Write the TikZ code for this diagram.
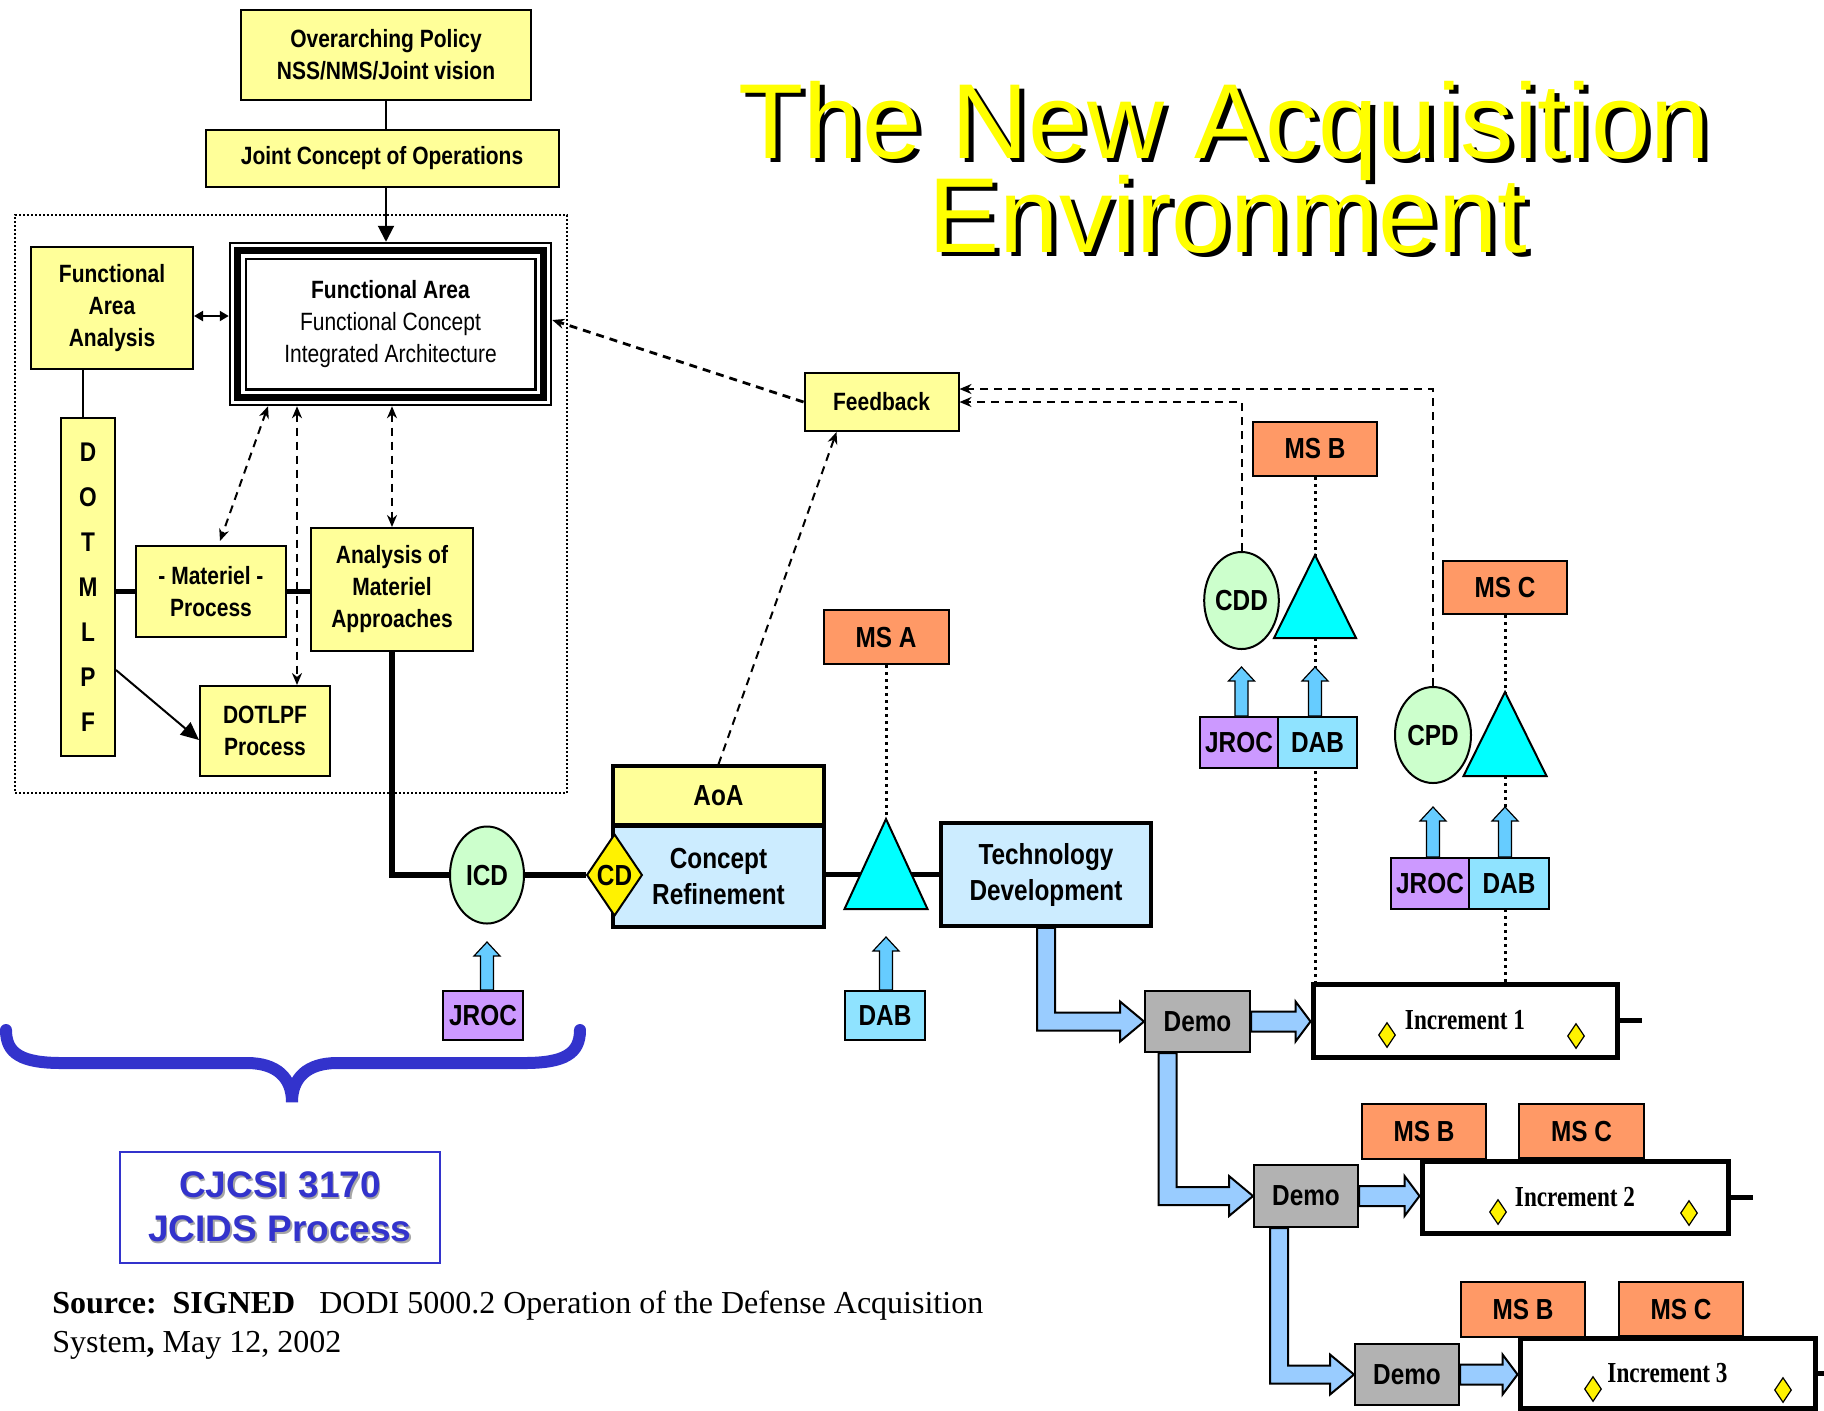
\documentclass[tikz,border=0pt]{standalone}
\usepackage{fontspec}
\setmainfont{Liberation Sans}
\newfontfamily\nfont[FakeStretch=0.84]{Liberation Sans}
\newfontfamily\incfont[FakeStretch=0.8]{Liberation Serif}
\newfontfamily\srcfont{Liberation Serif}
\usetikzlibrary{shapes.geometric,arrows.meta,calc}
\pgfdeclarelayer{bg}
\pgfsetlayers{bg,main}
\definecolor{yel}{HTML}{FFFF99}
\definecolor{lblue}{HTML}{CCECFF}
\definecolor{lgreen}{HTML}{CCFFCC}
\definecolor{mso}{HTML}{FF9966}
\definecolor{jrocc}{HTML}{CC99FF}
\definecolor{dabc}{HTML}{8FE3FF}
\definecolor{arrs}{HTML}{66CCFF}
\definecolor{arrb}{HTML}{99CCFF}
\definecolor{democ}{HTML}{B2B2B2}
\definecolor{bracec}{HTML}{3333CC}
\definecolor{tricyan}{HTML}{00FFFF}
\definecolor{titley}{HTML}{FFFF00}
\newcommand\shadowtext[4]{\makebox[0pt][l]{\hspace{#1}\raisebox{-#2}{\color{#3}#4}}#4}
\newcommand\UpArr[2]{\draw[smallarr] #1 ++(-3.25pt,0) -- ++(0,#2-7pt) -- ++(-3.25pt,0) -- ++(6.5pt,7pt) -- ++(6.5pt,-7pt) -- ++(-3.25pt,0) -- ++(0,7pt-#2) -- cycle;}
\newcommand\LArr[2]{\draw[bigarr] let \p1=#1, \p2=#2 in (\x1-4.5pt,\y1) -- (\x1-4.5pt,\y2-4.5pt) -- (\x2-12pt,\y2-4.5pt) -- (\x2-12pt,\y2-10pt) -- (\x2,\y2) -- (\x2-12pt,\y2+10pt) -- (\x2-12pt,\y2+4.5pt) -- (\x1+4.5pt,\y2+4.5pt) -- (\x1+4.5pt,\y1) -- cycle;}
\newcommand\RArr[2]{\draw[bigarr] let \p1=#1, \p2=#2 in (\x1,\y1-5pt) -- (\x2-7.5pt,\y1-5pt) -- (\x2-7.5pt,\y1-10pt) -- (\x2,\y1) -- (\x2-7.5pt,\y1+10pt) -- (\x2-7.5pt,\y1+5pt) -- (\x1,\y1+5pt) -- cycle;}
\begin{document}
\begin{tikzpicture}[x=0.5pt,y=-0.5pt,
  sz/.code 2 args={\pgfmathsetlengthmacro\tmpw{#1*0.5pt}\pgfmathsetlengthmacro\tmph{#2*0.5pt}\edef\tmp{\noexpand\tikzset{minimum width=\tmpw,minimum height=\tmph}}\tmp},
  box/.style={draw, line width=1pt, inner sep=0pt, align=center, font=\nfont\bfseries\fontsize{12.5}{16}\selectfont},
  big/.style={font=\nfont\bfseries\fontsize{14.5}{18}\selectfont},
  ybox/.style={box, fill=yel},
  msbox/.style={box, big, fill=mso},
  ell/.style={ellipse, draw, line width=1pt, fill=lgreen, inner sep=0pt, big},
  incbox/.style={box, fill=white, line width=2.5pt, font=\incfont\bfseries\fontsize{14.5}{17}\selectfont},
  smalld/.style={diamond, draw, line width=0.6pt, fill=yellow, inner sep=0pt, minimum width=8.5pt, minimum height=12.5pt},
  thinl/.style={line width=1pt},
  thickl/.style={line width=2.75pt},
  dashl/.style={line width=1pt, dash pattern=on 4pt off 3pt},
  dashf/.style={line width=1.4pt, dash pattern=on 4pt off 3pt},
  dotl/.style={line width=1.5pt, dash pattern=on 1.5pt off 2pt},
  tri/.style={draw, line width=1pt, fill=tricyan, line join=miter},
  smallarr/.style={draw, line width=0.6pt, fill=arrs},
  bigarr/.style={draw, line width=1pt, fill=arrb, line join=miter},
  st/.style={-{Stealth[length=6pt,width=5pt]}},
  dst/.style={{Stealth[length=6pt,width=5pt]}-{Stealth[length=6pt,width=5pt]}},
  titlef/.style={anchor=base, font=\fontsize{53.3}{60}\selectfont, inner sep=0pt, text=titley}
]
\useasboundingbox (0,0) rectangle (1824,1410);
\begin{pgfonlayer}{bg}
\fill[white] (0,0) rectangle (1824,1410);
\end{pgfonlayer}

% ---------- title ----------
\node[titlef] (t1) at (1224,158) {\shadowtext{2.5pt}{2pt}{black}{The New Acquisition}};
\node[titlef] (t2) at (1228,252) {\shadowtext{2.5pt}{2pt}{black}{Environment}};

% ---------- JCIDS region ----------
\node[draw, line width=1pt, dash pattern=on 1pt off 1pt, sz={552}{578}] (frame) at (291,504) {};
\node[ybox, sz={290}{90}] (op) at (386,55) {Overarching Policy\\NSS/NMS/Joint vision};
\node[ybox, sz={353}{57}] (jco) at (382,158.5) {Joint Concept of Operations};
\node[ybox, sz={162}{122}] (faa) at (112,308) {Functional\\Area\\Analysis};
\node[box, fill=white, line width=1.25pt, sz={321}{162}] (fa) at (390.5,324) {Functional Area\\{\mdseries Functional Concept}\\{\mdseries Integrated Architecture}};
\draw[line width=3.5pt] ([shift={(4.5pt,-4.5pt)}]fa.north west) rectangle ([shift={(-4.5pt,4.5pt)}]fa.south east);
\draw[line width=1.25pt] ([shift={(8.5pt,-8.5pt)}]fa.north west) rectangle ([shift={(-8.5pt,8.5pt)}]fa.south east);
\node[ybox, sz={54}{338}, font=\nfont\bfseries\fontsize{13.5}{22.5}\selectfont] (dot) at (88,587) {D\\O\\T\\M\\L\\P\\F};
\node[ybox, sz={150}{91}] (mat) at (211,591.5) {- Materiel -\\Process};
\node[ybox, sz={162}{123}] (ama) at (392,589.5) {Analysis of\\Materiel\\Approaches};
\node[ybox, sz={130}{90}] (dotlpf) at (265,731) {DOTLPF\\Process};
\coordinate (v2) at (297,0);

\draw[thinl] (op.south) -- (op.south |- jco.north);
\draw[thinl, -{Triangle[length=8pt,width=8pt]}] (jco.south -| op.south) -- (op.south |- fa.north);
\draw[thinl, {Triangle[length=4.5pt,width=5pt]}-{Triangle[length=4.5pt,width=5pt]}] ([yshift=-4pt]faa.east) -- ([yshift=-4pt]faa.east -| fa.west);
\draw[thinl] ([xshift=-2.5pt]dot.north) -- ([xshift=-2.5pt]dot.north |- faa.south);
\draw[thickl] (dot.east |- mat.west) -- (mat.west);
\draw[thickl] (mat.east) -- (mat.east -| ama.west);
\draw[thinl, -{Triangle[length=9pt,width=8pt]}] ([yshift=-41.5pt]dot.east) -- ([yshift=-4.5pt]dotlpf.west);
\draw[dashl, dst] ([xshift=-61.25pt]fa.south) -- ([xshift=4.5pt,yshift=2pt]mat.north);
\draw[dashl, dst] (v2 |- fa.south) -- (v2 |- dotlpf.north);
\draw[dashl, dst] (ama.north |- fa.south) -- (ama.north);

% ---------- main timeline ----------
\node[ell, sz={74}{97}] (icd) at (487,875) {ICD};
\node[box, big, fill=lblue, line width=1.75pt, sz={211}{101}] (cr) at (718.5,876.5) {Concept\\Refinement};
\node[box, big, fill=yel, line width=1.75pt, sz={211}{59}] (aoa) at (718.5,795.5) {AoA};
\node[diamond, draw, line width=1pt, fill=yellow, inner sep=0pt, big, sz={55}{82}] (cd) at (614.5,875) {CD};
\node[msbox, sz={125}{54}] (msa) at (886,637) {MS A};
\node[box, big, fill=lblue, line width=1.75pt, sz={210}{103}] (td) at (1046,874.5) {Technology\\Development};
\coordinate (tA) at (886,819);
\draw[tri] (tA) -- ++(41.5,90) -- ++(-83,0) -- cycle;
\node[box, big, fill=jrocc, sz={80}{49}] (jroc0) at (483,1015.5) {JROC};
\node[box, big, fill=dabc, sz={80}{49}] (dab0) at (885,1015.5) {DAB};

\begin{pgfonlayer}{bg}
\draw[thickl] (ama.south) |- (icd.west);
\draw[thickl] (icd.east) -- (cd.west);
\draw[thickl] (cr.east |- td.west) -- (td.west);
\draw[dotl] (msa.south) -- (tA);
\end{pgfonlayer}
\UpArr{(icd.south |- jroc0.north)}{24pt}
\UpArr{(tA |- dab0.north)}{26.5pt}

% ---------- feedback and milestones ----------
\node[ybox, sz={154}{58}] (fb) at (881.5,402) {Feedback};
\node[msbox, sz={124}{54}] (msb1) at (1315,449) {MS B};
\node[ell, sz={73}{97}] (cdd) at (1241.5,600.5) {CDD};
\coordinate (tB) at (1315,555);
\draw[tri] (tB) -- ++(41,83) -- ++(-82,0) -- cycle;
\node[box, big, fill=jrocc, sz={78}{51}] (jroc1) at (1239,742.5) {JROC};
\node[box, big, fill=dabc, sz={79}{51}] (dab1) at (1317.5,742.5) {DAB};
\node[msbox, sz={124}{53}] (msc1) at (1505,587.5) {MS C};
\node[ell, sz={76}{96}] (cpd) at (1433,735) {CPD};
\coordinate (tC) at (1505,692);
\draw[tri] (tC) -- ++(41.5,84) -- ++(-83,0) -- cycle;
\node[box, big, fill=jrocc, sz={78}{51}] (jroc2) at (1430,883.5) {JROC};
\node[box, big, fill=dabc, sz={80}{51}] (dab2) at (1509,883.5) {DAB};
\UpArr{(cdd.south |- jroc1.north)}{24.5pt}
\UpArr{(tB |- dab1.north)}{24.5pt}
\UpArr{(cpd.south |- jroc2.north)}{25pt}
\UpArr{(tC |- dab2.north)}{25pt}

\draw[dashf, st] (fb.west) -- ([yshift=2pt]fa.east);
\draw[dashl, st] (aoa.north) -- ([xshift=-22.5pt]fb.south);
\draw[dashl, st] (cdd.north) |- (fb.east);
\draw[dashl, st] (cpd.north) |- ([yshift=6.5pt]fb.east);

% ---------- increments ----------
\node[box, big, fill=democ, sz={105}{61}] (demo1) at (1197.5,1021.5) {Demo};
\node[incbox, sz={304}{73}] (inc1) at (1465,1020.5) {Increment 1};
\node[box, big, fill=democ, sz={104}{62}] (demo2) at (1306,1196) {Demo};
\node[incbox, sz={306}{72}] (inc2) at (1575,1197) {Increment 2};
\node[msbox, sz={124}{55}] (msb2) at (1424,1131.5) {MS B};
\node[msbox, sz={125}{54}] (msc2) at (1581.5,1131) {MS C};
\node[box, big, fill=democ, sz={104}{61}] (demo3) at (1407,1374.5) {Demo};
\node[incbox, sz={295}{70}] (inc3) at (1667.5,1373) {Increment 3};
\node[msbox, sz={124}{55}] (msb3) at (1523,1309.5) {MS B};
\node[msbox, sz={124}{54}] (msc3) at (1681,1309) {MS C};
\node[smalld] (d1a) at (1387,1035) {};
\node[smalld] (d1b) at (1576,1036) {};
\node[smalld] (d2a) at (1498,1212) {};
\node[smalld] (d2b) at (1689,1213) {};
\node[smalld] (d3a) at (1593,1389) {};
\node[smalld] (d3b) at (1783,1390) {};
\draw[line width=2.5pt] (inc1.east) -- ++(11pt,0);
\draw[line width=2.5pt] (inc2.east) -- ++(11pt,0);
\draw[line width=2.5pt] (inc3.east) -- ++(11pt,0);

\begin{pgfonlayer}{bg}
\draw[dotl] (msb1.south) -- (msb1.south |- inc1.north);
\draw[dotl] (msc1.south) -- (msc1.south |- inc1.north);
\end{pgfonlayer}

\LArr{(td.south)}{(demo1.west)}
\LArr{([xshift=-15pt]demo1.south)}{(demo2.west)}
\LArr{([xshift=-13.5pt]demo2.south)}{(demo3.west)}
\RArr{(demo1.east)}{(inc1.west)}
\RArr{(demo2.east)}{(inc2.west)}
\RArr{(demo3.east)}{(inc3.west)}

% ---------- brace and JCIDS label ----------
\draw[bracec, line width=6pt, line cap=round] (6,1030) .. controls (6,1054) and (22,1063) .. (62,1063) -- (247,1063) .. controls (277,1063) and (292,1078) .. (292,1102) .. controls (292,1078) and (307,1063) .. (337,1063) -- (524,1063) .. controls (564,1063) and (580,1054) .. (580,1030);
\node[draw=bracec, line width=0.75pt, text=bracec, align=center, inner sep=0pt, font=\bfseries\fontsize{18.5}{22}\selectfont, sz={320}{111}] (cj) at (280,1207.5) {\shadowtext{0.75pt}{0.75pt}{black!35}{CJCSI 3170}\\\shadowtext{0.75pt}{0.75pt}{black!35}{JCIDS Process}};

% ---------- source ----------
\node[anchor=base west, inner sep=0pt, font=\srcfont\fontsize{16}{19.5}\selectfont] (src1) at (52,1313) {\textbf{Source:\ \ SIGNED}\ \ \ DODI 5000.2 Operation of the Defense Acquisition};
\node[anchor=base west, inner sep=0pt, font=\srcfont\fontsize{16}{19.5}\selectfont] (src2) at (52,1352) {System\textbf{,} May 12, 2002};
\end{tikzpicture}
\end{document}
